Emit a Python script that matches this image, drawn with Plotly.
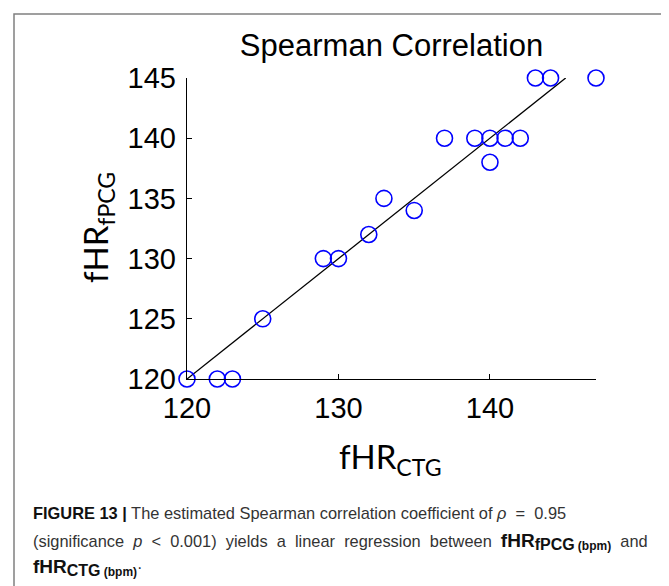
import plotly.graph_objects as go

# data
fhr_ctg = [120, 122, 123, 125, 129, 130, 132, 133, 135, 137, 139, 140, 140, 141, 142, 143, 144, 147]
fhr_fpcg = [120, 120, 120, 125, 130, 130, 132, 135, 134, 140, 140, 140, 138, 140, 140, 145, 145, 145]
fit_x = [120, 145]
fit_y = [120, 145]
x_ticks = [120, 130, 140]
y_ticks = [120, 125, 130, 135, 140, 145]

# page body has an 8px margin, so the figure is drawn 8px smaller and offset
OFF = 8
W, H = 669 - OFF, 586 - OFF
L, R, T, B = 187 - OFF, 73, 78 - OFF, 207
pw, ph = W - L - R, H - T - B


def px(x):
    return (x - OFF - L) / pw


def py(y):
    return (H - B - (y - OFF)) / ph


def fhr(sub):
    # bold fHR with a bold subscript, as in the caption
    return ('<b style="color:#111"><span style="font-size:19px">fHR</span>'
            '<sub><span style="font-size:16px">' + sub + '</span> '
            '<span style="font-size:12px">(bpm)</span></sub></b>')


fig = go.Figure()
fig.add_trace(go.Scatter(x=fit_x, y=fit_y, mode='lines',
                         line=dict(color='black', width=1.3),
                         cliponaxis=False, showlegend=False))
fig.add_trace(go.Scatter(x=fhr_ctg, y=fhr_fpcg, mode='markers',
                         marker=dict(symbol='circle-open', size=16, color='#0000ff',
                                     line=dict(color='#0000ff', width=1.6)),
                         cliponaxis=False, showlegend=False))

axis_font = dict(family='Liberation Sans, Arial, sans-serif', size=29, color='black')
fig.update_xaxes(range=[120, 147], tickvals=x_ticks, ticks='inside', ticklen=5,
                 tickcolor='black', showline=True, linecolor='black', linewidth=1.4,
                 showgrid=False, zeroline=False, tickfont=axis_font, ticklabelstandoff=3)
fig.update_yaxes(range=[120, 145], tickvals=y_ticks, ticks='inside', ticklen=5,
                 tickcolor='black', showline=True, linecolor='black', linewidth=1.4,
                 showgrid=False, zeroline=False, tickfont=axis_font, ticklabelstandoff=4)

lab_font = dict(family='Lato, sans-serif', size=33, color='black')
cap_font = dict(family='Liberation Sans, sans-serif', size=16.4, color='#333')

# caption line 2 is justified in the original, so its word gaps are wider
line2 = '  '.join(['(significance', '<i>p</i>', '&lt;', '0.001)', 'yields', 'a',
                   'linear', 'regression', 'between', fhr('fPCG'), 'and'])

fig.update_layout(
    width=W, height=H,
    margin=dict(l=L, r=R, t=T, b=B),
    paper_bgcolor='white', plot_bgcolor='white',
    title=dict(text='Spearman Correlation', x=0.5, xref='paper', y=1 - (45 - OFF) / H,
               yanchor='middle', xanchor='center',
               font=dict(family='Liberation Sans, Arial, sans-serif', size=31, color='black')),
    shapes=[dict(type='rect', xref='paper', yref='paper',
                 x0=px(14), x1=px(667), y0=py(640), y1=py(14),
                 line=dict(color='#808080', width=1.5), fillcolor='rgba(0,0,0,0)')],
    annotations=[
        dict(text='fHR<sub>CTG</sub>', xref='paper', yref='paper', x=px(390), y=py(458),
             xanchor='center', yanchor='middle', showarrow=False, font=lab_font),
        dict(text='fHR<sub>fPCG</sub>', xref='paper', yref='paper', x=px(97), y=py(228),
             xanchor='center', yanchor='middle', showarrow=False, textangle=-90, font=lab_font),
        dict(text='<b style="color:#111">FIGURE 13 |</b> The estimated Spearman correlation '
                  'coefficient of <i>ρ</i>  =  0.95',
             xref='paper', yref='paper', x=px(31), y=py(513), xanchor='left', yanchor='middle',
             showarrow=False, font=cap_font, align='left'),
        dict(text=line2,
             xref='paper', yref='paper', x=px(31), y=py(541), xanchor='left', yanchor='middle',
             showarrow=False, font=cap_font, align='left'),
        dict(text=fhr('CTG') + '·',
             xref='paper', yref='paper', x=px(31), y=py(567), xanchor='left', yanchor='middle',
             showarrow=False, font=cap_font, align='left'),
    ],
)

fig.write_html('out.html')
